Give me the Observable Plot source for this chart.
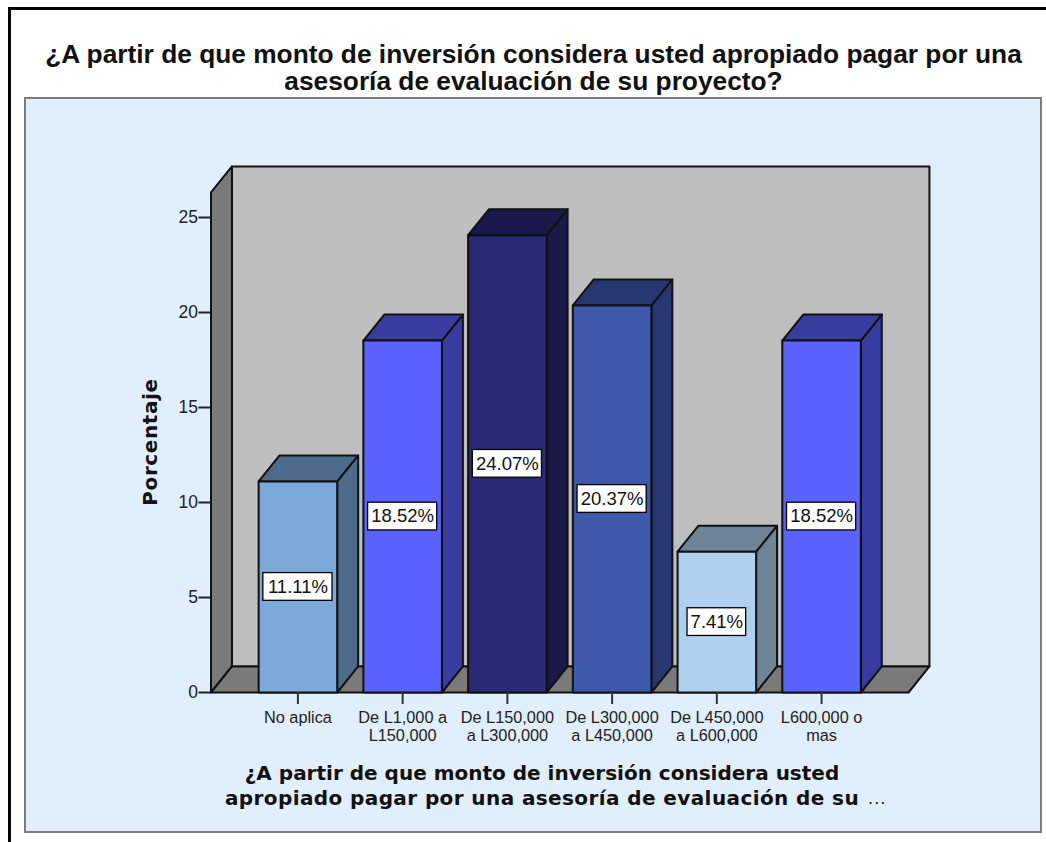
<!DOCTYPE html>
<html><head><meta charset="utf-8">
<script src="https://cdn.jsdelivr.net/npm/d3@7"></script>
<script src="https://cdn.jsdelivr.net/npm/@observablehq/plot@0.6"></script>
<style>
html,body{margin:0;padding:0;background:#fff;overflow:hidden}
#page{position:relative;width:1046px;height:842px;overflow:hidden}
#frame{position:absolute;left:8px;top:7px;width:1060px;height:860px;border:3px solid #000;box-sizing:border-box}
#panel{position:absolute;left:24px;top:97px;width:1018px;height:736px;box-sizing:border-box;background:#e1eefb;border:2px solid #7c7c7c}
#title{position:absolute;left:0;width:1067px;top:41px;text-align:center;font:bold 26.3px/27px "Liberation Sans",sans-serif;color:#111}
#xtitle{position:absolute;left:0;width:1084px;top:761px;text-align:center;font:bold 20px/25px "DejaVu Sans",sans-serif;color:#111}
#xtitle b{letter-spacing:.4px}
#xtitle span{position:absolute;margin-left:9px;font:normal 16px/25px "DejaVu Sans",sans-serif;letter-spacing:1px}
#ylabel{position:absolute;left:150px;top:442px;transform:translate(-50%,-50%) rotate(-90deg);white-space:nowrap;font:bold 20px/24px "DejaVu Sans",sans-serif;letter-spacing:.6px;color:#111}
svg{position:absolute;left:0;top:0}
</style></head><body>
<div id="page">
<div id="frame"></div>
<div id="panel"></div>
<div id="title">¿A partir de que monto de inversión considera usted apropiado pagar por una<br>asesoría de evaluación de su proyecto?</div>
<div id="xtitle">¿A partir de que monto de inversión considera usted<br><b>apropiado pagar por una asesoría de evaluación de su</b><span>...</span></div>
</div>
<script>
const categories = ["No aplica","De L1,000 a\nL150,000","De L150,000\na L300,000","De L300,000\na L450,000","De L450,000\na L600,000","L600,000 o\nmas"];
const values = [11.11,18.52,24.07,20.37,7.41,18.52];
const frontColors = ["#7ba9d8","#5a62ff","#292a75","#3e58ac","#aed0ee","#5a62ff"];
const topColors = ["#4d6b8a","#383c9f","#1a1a4a","#27376f","#6e8499","#383c9f"];
const yTicks = [0,5,10,15,20,25];
const yLabel = "Porcentaje";

// 3-D geometry, in scale units
const xMin = -0.83, xMax = 5.83, halfBar = 0.375, dx = 0.2, dy = 1.37, wallTop = 26.32;

const faces = [];
const face = (color, pts) => { const id = faces.length; pts.forEach(([x,y]) => faces.push({id,color,x,y})); };
face("#bebebe", [[xMin+dx,dy],[xMax+dx,dy],[xMax+dx,wallTop+dy],[xMin+dx,wallTop+dy]]);
face("#7a7a7a", [[xMin,0],[xMin+dx,dy],[xMin+dx,wallTop+dy],[xMin,wallTop]]);
face("#7a7a7a", [[xMin,0],[xMax,0],[xMax+dx,dy],[xMin+dx,dy]]);
values.forEach((v,i) => {
  const a = i-halfBar, b = i+halfBar;
  face(topColors[i], [[b,0],[b+dx,dy],[b+dx,v+dy],[b,v]]);
  face(topColors[i], [[a,v],[b,v],[b+dx,v+dy],[a+dx,v+dy]]);
  face(frontColors[i], [[a,0],[b,0],[b,v],[a,v]]);
});

const labels = values.map((v,i) => {
  const text = v.toFixed(2)+"%";
  const w = text.length === 6 ? 0.33 : 0.28;
  return {text, x1:i-w, x2:i+w, y1:v/2-0.73, y2:v/2+0.73, x:i, y:v/2};
});

const chart = Plot.plot({
  width:1046, height:842,
  marginLeft:210.5, marginRight:138, marginTop:0, marginBottom:150,
  style:{background:"transparent",fontFamily:"'Liberation Sans',sans-serif",fontSize:"16.3px",color:"#222"},
  x:{domain:[xMin,xMax]},
  y:{domain:[0,25],range:[692,217]},
  color:{type:"identity"},
  marks:[
    Plot.line(faces,{x:"x",y:"y",z:"id",fill:"color",stroke:"#111",strokeWidth:2,curve:"linear-closed",strokeLinejoin:"round"}),
    Plot.axisY({ticks:yTicks,tickSize:12,tickPadding:1,stroke:"#222",strokeWidth:2,label:null,fontSize:17.5,tickFormat:d=>d}),
    Plot.axisX({ticks:d3.range(categories.length),tickSize:12,tickPadding:6,stroke:"#333",strokeWidth:2,label:null,lineHeight:1.09,tickFormat:i=>categories[i],fontSize:16.3}),
    Plot.rect(labels,{x1:"x1",x2:"x2",y1:"y1",y2:"y2",fill:"#fff",stroke:"#000",strokeWidth:1.3}),
    Plot.text(labels,{x:"x",y:"y",text:"text",fill:"#111",fontSize:18.5})
  ]
});
document.getElementById("page").appendChild(chart);
const yl = document.createElement("div");
yl.id = "ylabel"; yl.textContent = yLabel;
document.getElementById("page").appendChild(yl);
</script>
</body></html>
